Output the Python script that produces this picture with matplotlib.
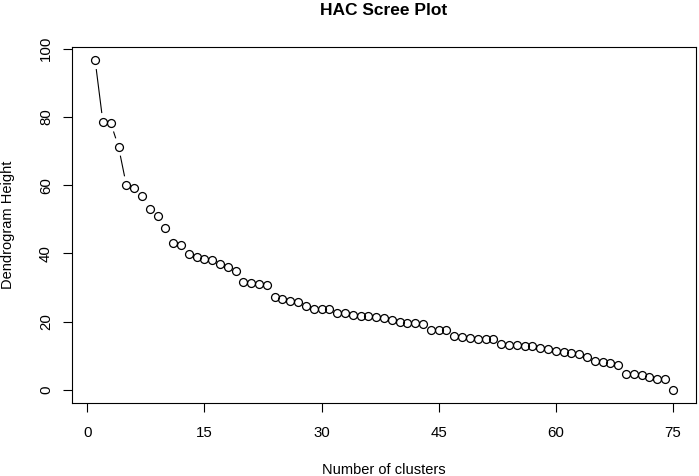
import matplotlib
matplotlib.use("Agg")
import matplotlib.pyplot as plt
import numpy as np

# dendrogram heights
clusters = list(range(1, 76))
heights = [96.6, 78.5, 78.2, 71.2, 60.0, 59.2, 56.7, 52.9, 50.8, 47.4,
           43.1, 42.5, 39.8, 38.9, 38.4, 37.9, 36.9, 36.1, 34.9, 31.7,
           31.2, 31.0, 30.7, 27.3, 26.6, 26.1, 25.6, 24.7, 23.6, 23.6,
           23.6, 22.6, 22.5, 22.0, 21.5, 21.5, 21.3, 20.9, 20.5, 19.9,
           19.7, 19.5, 19.2, 17.6, 17.6, 17.6, 15.8, 15.5, 15.1, 14.8,
           14.8, 14.8, 13.5, 13.2, 13.1, 12.9, 12.7, 12.3, 12.1, 11.4,
           11.2, 10.7, 10.5, 9.5, 8.4, 8.1, 7.9, 7.2, 4.7, 4.5,
           4.3, 3.9, 3.1, 3.1, 0.0]
xticks = [0, 15, 30, 45, 60, 75]
yticks = [0, 20, 40, 60, 80, 100]

plt.rcParams['font.family'] = ['Liberation Sans', 'DejaVu Sans']

W, H = 699, 476
fig = plt.figure(figsize=(W / 100, H / 100), dpi=100)
ax = fig.add_axes([72 / W, 1 - 403 / H, (696 - 72) / W, (403 - 47) / H])

x = np.array(clusters, dtype=float)
y = np.array(heights, dtype=float)

# R style 4% axis extension
dx = (x.max() - x.min()) * 0.04
dy = (y.max() - y.min()) * 0.04
ax.set_xlim(x.min() - dx, x.max() + dx)
ax.set_ylim(y.min() - dy, y.max() + dy)

# type = "b": line segments that stop short of each point
gap = 9.5
pix = ax.transData.transform(np.column_stack([x, y]))
inv = ax.transData.inverted()
for p0, p1 in zip(pix[:-1], pix[1:]):
    d = p1 - p0
    L = np.hypot(*d)
    if L <= 2 * gap:
        continue
    u = d / L
    a = inv.transform(p0 + u * gap)
    b = inv.transform(p1 - u * gap)
    ax.plot([a[0], b[0]], [a[1], b[1]], color='black', lw=0.8)

ax.plot(x, y, linestyle='none', marker='o', ms=5.7, mfc='none',
        mec='black', mew=0.9)

ax.set_xticks(xticks)
ax.set_yticks(yticks)
ax.tick_params(axis='both', direction='out', length=6.8, width=0.8,
               labelsize=10.8, color='black')
ax.tick_params(axis='x', pad=9.5)
ax.tick_params(axis='y', pad=6.8)
for lab in ax.get_yticklabels():
    lab.set_rotation(90)
    lab.set_va('center')
for s in ax.spines.values():
    s.set_linewidth(0.8)
    s.set_color('black')

fig.text(384 / W, (H - 15) / H, 'HAC Scree Plot', ha='center',
         va='baseline', fontsize=12.5, fontweight='bold')
fig.text(384 / W, (H - 474.3) / H, 'Number of clusters', ha='center',
         va='baseline', fontsize=10.5)
fig.text(8.5 / W, (H - 225) / H, 'Dendrogram Height', ha='center',
         va='center', rotation=90, fontsize=10.5)

fig.savefig('out.png', dpi=100)
